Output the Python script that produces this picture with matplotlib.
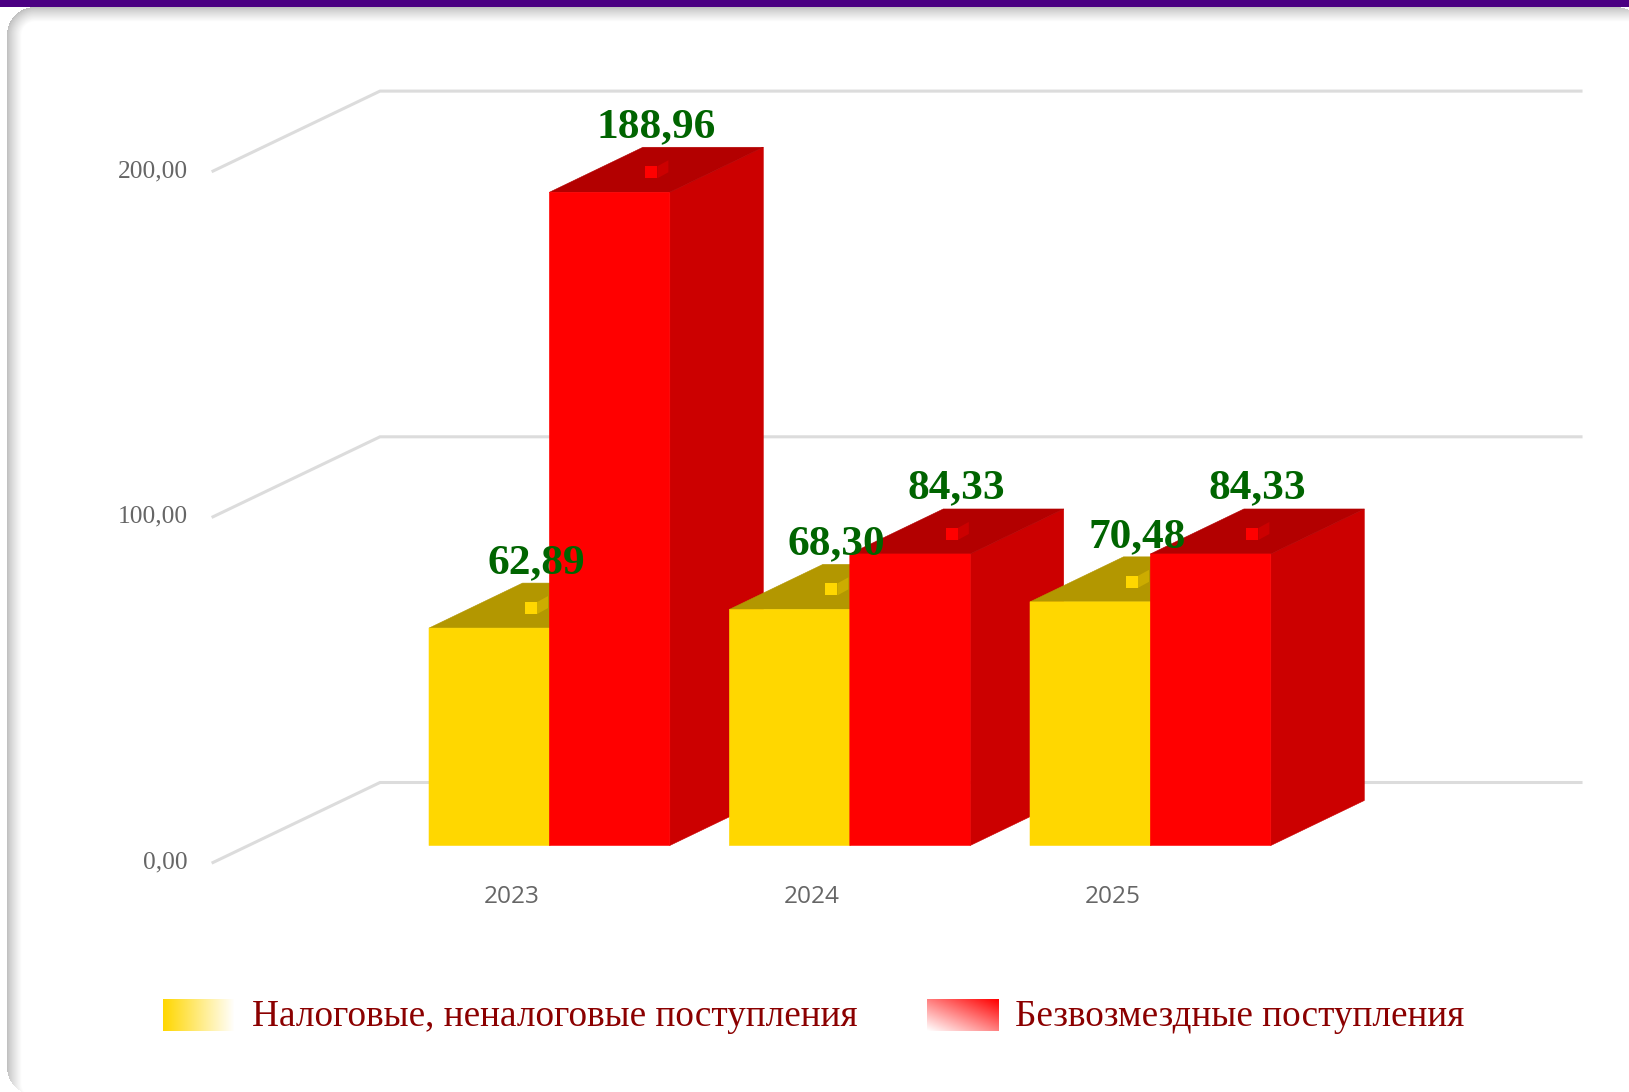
import numpy as np
import matplotlib
matplotlib.use('Agg')
import matplotlib.pyplot as plt
from matplotlib.patches import Polygon, Rectangle

# data
years = ['2023', '2024', '2025']
tax_values = [62.89, 68.30, 70.48]
free_values = [188.96, 84.33, 84.33]
tax_labels = ['62,89', '68,30', '70,48']
free_labels = ['188,96', '84,33', '84,33']
axis_ticks = [0, 100, 200]
axis_labels = ['0,00', '100,00', '200,00']
legend_names = ['Налоговые, неналоговые поступления', 'Безвозмездные поступления']

W, H = 1629, 1092
SERIF = 'Liberation Serif'
GREEN = '#006400'

# 3d-ish layout, everything in pixels
base_y = 845.5
px_per_unit = 3.457
bar_w = 120.4
group_x = [429.0, 729.4, 1030.0]
depth_x, depth_y = 93.5, 45.0

fig = plt.figure(figsize=(W / 100, H / 100), dpi=100)
ax = fig.add_axes([0, 0, 1, 1])
ax.set_xlim(0, W)
ax.set_ylim(H, 0)
ax.axis('off')


def val_y(v):
    return base_y - v * px_per_unit


def card_dist(right, bottom, r=28.0, left=7.0, top=7.0):
    # distance from the edge of a rounded box, inside only
    yy, xx = np.mgrid[0:H, 0:W]
    px, py = xx + 0.5, yy + 0.5
    dx = np.maximum(np.maximum(left + r - px, px - (right - r)), 0)
    dy = np.maximum(np.maximum(top + r - py, py - (bottom - r)), 0)
    return r - np.hypot(dx, dy)


# card with an inner shadow on the left and top only
inside = card_dist(1644, 1095)
shadow = card_dist(1660, 1112)
shade = np.clip(shadow / 15.0, 0, 1) ** 0.8
img = 0.74 + 0.26 * shade
img[inside < 0] = 1.0
ax.imshow(img, cmap='gray', vmin=0, vmax=1, extent=(0, W, H, 0), aspect='auto', zorder=0,
          interpolation='bilinear')
ax.set_xlim(0, W)
ax.set_ylim(H, 0)
ax.add_patch(Rectangle((0, 0), W, 7, fc='#4B0082', ec='none', zorder=1))

# grid walls
for t, lab in zip(axis_ticks, axis_labels):
    y = val_y(t)
    front_y = y + 17
    ax.plot([213, 380, 1581], [front_y, front_y - 80, front_y - 80], color='#dcdcdc', lw=2.2, zorder=2,
            solid_joinstyle='miter')
    ax.text(188, front_y, lab, ha='right', va='center', family=SERIF, fontsize=18.4, color='#666666',
            zorder=3)


def draw_bar(x, v, front, side, top, z):
    y = val_y(v)
    ax.add_patch(Polygon([(x + bar_w, base_y), (x + bar_w + depth_x, base_y - depth_y),
                          (x + bar_w + depth_x, y - depth_y), (x + bar_w, y)], fc=side, ec=side, lw=0.4,
                         zorder=z, snap=False))
    ax.add_patch(Polygon([(x, y), (x + depth_x, y - depth_y), (x + bar_w + depth_x, y - depth_y),
                          (x + bar_w, y)], fc=top, ec=top, lw=0.4, zorder=z, snap=False))
    ax.add_patch(Rectangle((x, y), bar_w, base_y - y, fc=front, ec=front, lw=0.4, zorder=z + 0.1, snap=False))
    # small marker sitting on top of the bar
    mx, my = x + 96, y - 26
    ax.add_patch(Polygon([(mx + 12, my), (mx + 23, my - 6), (mx + 23, my + 6), (mx + 12, my + 12)],
                         fc=side, ec='none', zorder=z + 0.2))
    ax.add_patch(Rectangle((mx, my), 12, 12, fc=front, ec='none', zorder=z + 0.3))


for i, x in enumerate(group_x):
    z = 10 + i * 2
    draw_bar(x, tax_values[i], '#FFD700', '#CCAC00', '#B39700', z)
    draw_bar(x + bar_w, free_values[i], '#FF0000', '#CC0000', '#B30000', z + 1)
    ax.text(x + bar_w / 2 + 47, val_y(tax_values[i]) - 65, tax_labels[i], ha='center', va='center',
            family=SERIF, weight='bold', fontsize=31.2, color=GREEN, zorder=30)
    ax.text(x + bar_w * 1.5 + 46.5, val_y(free_values[i]) - 65.5, free_labels[i], ha='center', va='center',
            family=SERIF, weight='bold', fontsize=31.2, color=GREEN, zorder=30)
    ax.text(x + 82.5, 897, years[i], ha='center', va='center', family='Open Sans', fontsize=17.6,
            color='#666666', zorder=3)

# legend with gradient swatches
grad = np.linspace(0, 1, 72)[None, :]
yellow = np.ones((32, 72, 3))
yellow[..., 1] = 0.843 + (1 - 0.843) * grad
yellow[..., 2] = grad
ax.imshow(yellow, extent=(163, 235, 1031, 999), aspect='auto', zorder=3)
gx, gy = np.meshgrid(np.linspace(0, 1, 72), np.linspace(0, 1, 32))
mix = np.clip((1 - gx + gy) / 2, 0, 1)
red = np.ones((32, 72, 3))
red[..., 1] = mix
red[..., 2] = mix
ax.imshow(red, extent=(927, 999, 1031, 999), aspect='auto', zorder=3)
ax.set_xlim(0, W)
ax.set_ylim(H, 0)
ax.text(252, 1016.5, legend_names[0], ha='left', va='center', family=SERIF, fontsize=26.85, color='#8B0000', zorder=3)
ax.text(1015, 1016.5, legend_names[1], ha='left', va='center', family=SERIF, fontsize=26.85, color='#8B0000', zorder=3)

fig.savefig('out.png', dpi=100)
